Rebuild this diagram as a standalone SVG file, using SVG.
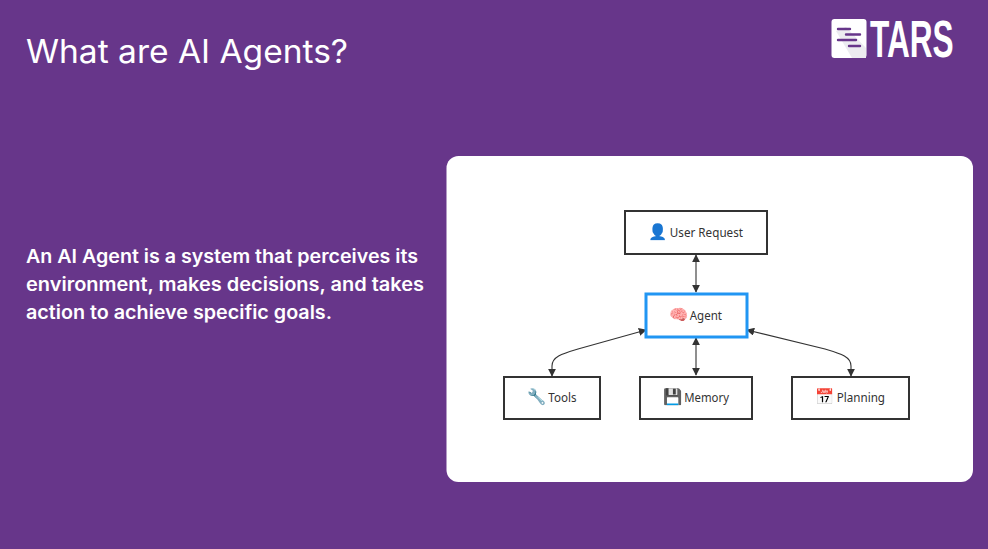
<svg xmlns="http://www.w3.org/2000/svg" width="988" height="549" viewBox="0 0 988 549">
<defs>
<style>
.h{font-family:Inter,"Liberation Sans",sans-serif;fill:#fff}
.n{fill:#fff;stroke:#333;stroke-width:2}
.t{font-family:"Noto Sans","DejaVu Sans",sans-serif;font-size:12.500px;fill:#333}
.e{font-size:15.500px;font-family:"DejaVu Sans","Noto Sans",sans-serif}
.c{fill:none;stroke:#333;stroke-width:1.100;marker-start:url(#a);marker-end:url(#a)}
</style>
<marker id="a" viewBox="0 0 10 10" refX="9" refY="5" markerWidth="8" markerHeight="8" markerUnits="userSpaceOnUse" orient="auto-start-reverse"><path d="M0 0L10 5L0 10z" fill="#333"/></marker>
</defs>
<rect width="988" height="549" fill="#67368a"/>
<text class="h" x="26" y="63" font-size="32" textLength="322" lengthAdjust="spacingAndGlyphs">What are AI Agents?</text>
<g class="h" font-size="18.500" font-weight="600">
<text x="26" y="263" textLength="392" lengthAdjust="spacingAndGlyphs">An AI Agent is a system that perceives its</text>
<text x="26" y="291" textLength="398" lengthAdjust="spacingAndGlyphs">environment, makes decisions, and takes</text>
<text x="26" y="319" textLength="306" lengthAdjust="spacingAndGlyphs">action to achieve specific goals.</text>
</g>
<g id="logo">
<rect x="831.500" y="19" width="35" height="39" rx="3" fill="#fff"/>
<path d="M836 31L852 58H866V48L846 27z" fill="#ececf0"/>
<g stroke="#67368a" stroke-width="2.400" stroke-linecap="round"><path d="M838 29H850M846 34.500H860M838 40H856M849 46H860"/></g>
<text transform="translate(870 57) scale(.62 1)" font-family="'Liberation Sans',sans-serif" font-size="51" font-weight="700" fill="#fff">TARS</text>
</g>
<rect x="446.500" y="156" width="526.500" height="326" rx="12" fill="#fff"/>
<g id="connectors">
<path class="c" d="M696 255V292"/>
<path class="c" d="M696 338V375"/>
<path class="c" d="M646 330L578 349C561 354 552 357 552 366V376"/>
<path class="c" d="M747 330L825 349C842 354 851 357 851 366V376"/>
</g>
<g id="user"><rect class="n" x="625" y="211" width="142" height="43"/><text class="t" y="237"><tspan class="e" x="648" fill="#4f7ea6">👤</tspan><tspan x="666.750" textLength="76.250" lengthAdjust="spacingAndGlyphs"> User Request</tspan></text></g>
<g id="agent"><rect x="646" y="294" width="101" height="43" fill="#fff" stroke="#2196f3" stroke-width="3"/><text class="t" y="320"><tspan class="e" x="668.500" fill="#e0708f">🧠</tspan><tspan x="686.750" textLength="35.250" lengthAdjust="spacingAndGlyphs"> Agent</tspan></text></g>
<g id="tools"><rect class="n" x="504" y="377" width="96" height="42"/><text class="t" y="402"><tspan class="e" x="526.500" fill="#7f8c96">🔧</tspan><tspan x="545.250" textLength="31.250" lengthAdjust="spacingAndGlyphs"> Tools</tspan></text></g>
<g id="memory"><rect class="n" x="640" y="377" width="112" height="42"/><text class="t" y="402"><tspan class="e" x="662.500" fill="#4d6f8c">💾</tspan><tspan x="681.250" textLength="47.750" lengthAdjust="spacingAndGlyphs"> Memory</tspan></text></g>
<g id="planning"><rect class="n" x="792" y="377" width="117" height="42"/><text class="t" y="402"><tspan class="e" x="814.500" fill="#a8504f">📅</tspan><tspan x="833.750" textLength="51.250" lengthAdjust="spacingAndGlyphs"> Planning</tspan></text></g>
</svg>
